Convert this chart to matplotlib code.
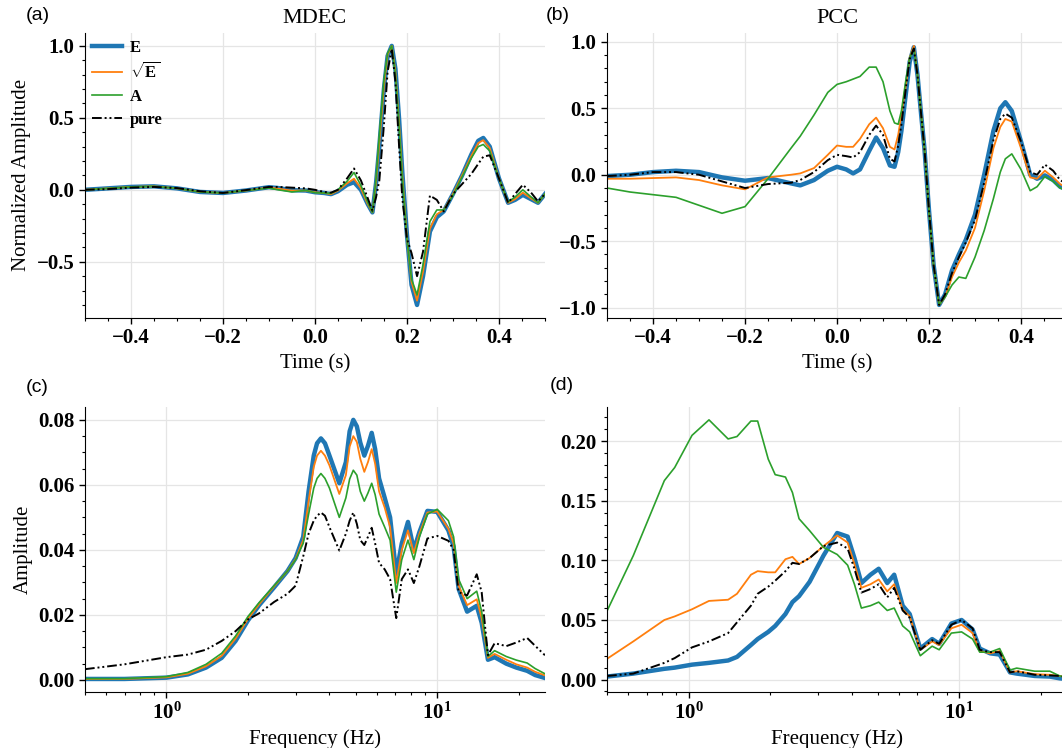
import numpy as np
import matplotlib
matplotlib.use("Agg")
import matplotlib.pyplot as plt
from matplotlib.ticker import AutoMinorLocator

plt.rcParams['font.family'] = ['Liberation Serif', 'DejaVu Serif']
plt.rcParams['mathtext.fontset'] = 'custom'
plt.rcParams['mathtext.rm'] = 'Liberation Serif'
plt.rcParams['mathtext.bf'] = 'Liberation Serif:bold'
plt.rcParams['mathtext.default'] = 'bf'

# ---- time-domain traces (s) ----
t = [-0.50, -0.45, -0.40, -0.35, -0.30, -0.25, -0.20, -0.15, -0.10, -0.08, -0.05, -0.02,
     0.00, 0.02, 0.035, 0.05, 0.07, 0.085, 0.10, 0.115, 0.125, 0.133,
     0.14, 0.15, 0.158, 0.167, 0.175, 0.183, 0.19, 0.20, 0.21, 0.222,
     0.235, 0.25, 0.265, 0.28, 0.30, 0.32, 0.34, 0.355, 0.366, 0.38,
     0.40, 0.42, 0.435, 0.452, 0.47, 0.485, 0.50]

mdec_E = [0.0, 0.01, 0.02, 0.024, 0.01, -0.015, -0.022, -0.005, 0.018, 0.012, -0.003, -0.005,
          -0.017, -0.022, -0.03, -0.01, 0.035, 0.053, 0.0, -0.1, -0.157, 0.05,
          0.30, 0.70, 0.93, 1.0, 0.84, 0.49, 0.12, -0.31, -0.66, -0.80,
          -0.60, -0.29, -0.19, -0.15, -0.03, 0.10, 0.245, 0.34, 0.36, 0.30,
          0.08, -0.09, -0.07, -0.035, -0.065, -0.09, -0.03]
mdec_sqrtE = [0.0, 0.01, 0.02, 0.024, 0.01, -0.015, -0.022, -0.005, 0.016, 0.008, -0.006, -0.005,
              -0.017, -0.022, -0.03, -0.005, 0.045, 0.077, 0.01, -0.1, -0.157, 0.06,
              0.33, 0.72, 0.94, 1.0, 0.82, 0.46, 0.10, -0.33, -0.64, -0.77,
              -0.57, -0.27, -0.17, -0.14, -0.03, 0.10, 0.235, 0.325, 0.345, 0.29,
              0.08, -0.09, -0.065, -0.02, -0.06, -0.09, -0.03]
mdec_A = [0.0, 0.01, 0.02, 0.024, 0.01, -0.015, -0.022, -0.005, 0.012, 0.0, -0.015, -0.004,
          -0.02, -0.022, -0.025, 0.0, 0.06, 0.12, 0.03, -0.09, -0.157, 0.08,
          0.38, 0.76, 0.95, 1.0, 0.80, 0.44, 0.08, -0.34, -0.62, -0.73,
          -0.52, -0.22, -0.14, -0.14, -0.04, 0.09, 0.22, 0.30, 0.315, 0.27,
          0.08, -0.085, -0.05, 0.0, -0.05, -0.09, -0.03]
mdec_pure = [0.0, 0.005, 0.015, 0.02, 0.012, -0.01, -0.022, -0.002, 0.02, 0.02, 0.015, 0.01,
             0.0, -0.015, -0.02, 0.0, 0.08, 0.148, 0.065, -0.06, -0.145, -0.05,
             0.065, 0.45, 0.82, 0.98, 0.75, 0.3, -0.06, -0.34, -0.44, -0.60,
             -0.43, -0.04, -0.07, -0.15, -0.03, 0.04, 0.11, 0.18, 0.23, 0.24,
             0.08, -0.09, -0.03, 0.035, -0.02, -0.08, -0.03]

pcc_E = [-0.01, 0.0, 0.02, 0.03, 0.02, -0.02, -0.045, -0.025, -0.065, -0.08, -0.04, 0.03,
         0.06, 0.04, 0.01, 0.04, 0.18, 0.28, 0.2, 0.07, 0.06, 0.17,
         0.33, 0.62, 0.85, 0.96, 0.75, 0.45, 0.2, -0.27, -0.68, -0.98,
         -0.9, -0.72, -0.6, -0.49, -0.3, 0.0, 0.33, 0.5, 0.546, 0.48,
         0.25, 0.0, -0.03, -0.005, -0.04, -0.09, -0.11]
pcc_sqrtE = [-0.03, -0.03, -0.025, -0.02, -0.04, -0.08, -0.11, -0.02, 0.0, 0.01, 0.05, 0.15,
             0.22, 0.21, 0.21, 0.27, 0.38, 0.43, 0.35, 0.21, 0.19, 0.3,
             0.45, 0.68, 0.88, 0.97, 0.75, 0.45, 0.2, -0.27, -0.68, -0.98,
             -0.92, -0.77, -0.66, -0.57, -0.4, -0.12, 0.2, 0.36, 0.42, 0.4,
             0.2, -0.02, -0.03, 0.03, -0.02, -0.07, -0.1]
pcc_A = [-0.10, -0.13, -0.15, -0.17, -0.23, -0.29, -0.24, -0.03, 0.2, 0.29, 0.45, 0.62,
         0.68, 0.70, 0.72, 0.74, 0.81, 0.81, 0.7, 0.48, 0.39, 0.38,
         0.48, 0.72, 0.88, 0.95, 0.75, 0.45, 0.2, -0.27, -0.68, -0.98,
         -0.92, -0.83, -0.77, -0.78, -0.62, -0.42, -0.18, 0.02, 0.12, 0.157,
         0.04, -0.12, -0.09, -0.013, -0.05, -0.1, -0.12]
pcc_pure = [-0.01, 0.0, 0.02, 0.02, 0.0, -0.05, -0.1, -0.07, -0.06, -0.04, 0.02, 0.11,
            0.15, 0.14, 0.13, 0.17, 0.3, 0.37, 0.3, 0.12, 0.1, 0.22,
            0.38, 0.66, 0.87, 0.95, 0.75, 0.45, 0.2, -0.27, -0.68, -0.98,
            -0.9, -0.74, -0.62, -0.51, -0.34, -0.06, 0.26, 0.42, 0.46, 0.43,
            0.25, 0.02, 0.0, 0.076, 0.03, -0.04, -0.07]

# ---- spectra (Hz) ----
freq_c = [0.5, 0.7, 1.0, 1.2, 1.4, 1.6, 1.8, 2.0, 2.2, 2.5, 2.8, 3.0, 3.2, 3.35, 3.5,
          3.6, 3.72, 3.85, 4.0, 4.35, 4.6, 4.75, 4.9, 5.05, 5.2, 5.38, 5.55, 5.73, 5.9, 6.1,
          6.4, 6.7, 7.06, 7.4, 7.8, 8.2, 8.6, 9.2, 10.0, 11.0, 11.5, 12.0,
          12.9, 14.0, 14.6, 15.4, 16.3, 18.0, 19.6, 21.5, 23.0, 25.0]
spec_mdec_E = [0.0003, 0.0003, 0.0007, 0.0017, 0.0038, 0.0068, 0.012, 0.0183, 0.023, 0.0285,
               0.0335, 0.0375, 0.044, 0.058, 0.069,
               0.0728, 0.0743, 0.0728, 0.069, 0.0605, 0.067, 0.0765, 0.080, 0.078, 0.073,
               0.069, 0.072, 0.076, 0.071, 0.062,
               0.056, 0.050, 0.0326, 0.042, 0.0486, 0.040, 0.0455, 0.052, 0.0517, 0.046, 0.041, 0.028,
               0.021, 0.0228, 0.0176, 0.0062, 0.007, 0.005, 0.0038, 0.0028, 0.0015, 0.0006]
spec_mdec_sqrtE = [0.0003, 0.0003, 0.0008, 0.0019, 0.0042, 0.0074, 0.0127, 0.0188, 0.0233, 0.0288,
                   0.0335, 0.0372, 0.043, 0.055, 0.0655,
                   0.069, 0.0705, 0.069, 0.066, 0.0572, 0.063, 0.0718, 0.075, 0.0732, 0.068,
                   0.064, 0.067, 0.071, 0.0665, 0.058,
                   0.053, 0.047, 0.0298, 0.040, 0.046, 0.039, 0.045, 0.0515, 0.0518, 0.0465, 0.042, 0.029,
                   0.023, 0.0248, 0.019, 0.0068, 0.008, 0.0062, 0.0048, 0.0038, 0.0025, 0.0014]
spec_mdec_A = [0.0004, 0.0004, 0.001, 0.0023, 0.0048, 0.0082, 0.0135, 0.0195, 0.0238, 0.029,
               0.0335, 0.037, 0.042, 0.051, 0.059,
               0.062, 0.0635, 0.062, 0.059, 0.050, 0.056, 0.0618, 0.0645, 0.063, 0.058,
               0.055, 0.0575, 0.0605, 0.057, 0.051,
               0.047, 0.043, 0.027, 0.037, 0.043, 0.037, 0.044, 0.051, 0.0525, 0.049, 0.044, 0.031,
               0.025, 0.0273, 0.021, 0.0072, 0.009, 0.0072, 0.0061, 0.0052, 0.0035, 0.0019]
spec_mdec_pure = [0.0033, 0.0048, 0.007, 0.0078, 0.0093, 0.012, 0.015, 0.0186, 0.0205, 0.024,
                  0.0265, 0.029, 0.038, 0.045, 0.049,
                  0.0505, 0.0515, 0.0505, 0.047, 0.0398, 0.045, 0.049, 0.0515, 0.048, 0.043,
                  0.0415, 0.044, 0.0468, 0.042, 0.036,
                  0.034, 0.031, 0.019, 0.031, 0.034, 0.0298, 0.035, 0.0435, 0.0443, 0.0428, 0.040, 0.027,
                  0.026, 0.0325, 0.027, 0.0076, 0.0113, 0.0104, 0.0115, 0.0129, 0.0105, 0.0076]

freq_d = [0.5, 0.625, 0.814, 0.889, 1.03, 1.19, 1.40, 1.51, 1.70, 1.80,
          1.97, 2.09, 2.28, 2.42, 2.56, 2.80, 3.15, 3.54, 3.87, 4.1,
          4.35, 4.7, 5.04, 5.42, 5.75, 6.18, 6.56, 7.18, 7.94, 8.43,
          9.35, 10.2, 11.2, 11.9, 13.0, 14.1, 15.4, 16.3, 19.0, 21.6,
          23.5, 25.0]
spec_pcc_E = [0.0025, 0.005, 0.009, 0.010, 0.0125, 0.014, 0.016, 0.019, 0.029, 0.034,
              0.040, 0.045, 0.055, 0.065, 0.070, 0.082, 0.104, 0.123, 0.120, 0.102,
              0.081, 0.088, 0.093, 0.081, 0.088, 0.062, 0.055, 0.026, 0.034, 0.030,
              0.047, 0.050, 0.042, 0.026, 0.022, 0.021, 0.006, 0.005, 0.003, 0.0025,
              0.001, 0.0005]
spec_pcc_sqrtE = [0.0174, 0.032, 0.050, 0.053, 0.059, 0.066, 0.067, 0.072, 0.088, 0.091,
                  0.090, 0.090, 0.101, 0.103, 0.097, 0.102, 0.112, 0.121, 0.115, 0.097,
                  0.077, 0.080, 0.084, 0.074, 0.080, 0.059, 0.053, 0.025, 0.032, 0.029,
                  0.043, 0.046, 0.039, 0.024, 0.022, 0.024, 0.006, 0.007, 0.0045, 0.004,
                  0.003, 0.002]
spec_pcc_A = [0.0576, 0.104, 0.167, 0.178, 0.205, 0.218, 0.202, 0.204, 0.217, 0.217,
              0.185, 0.172, 0.170, 0.157, 0.135, 0.125, 0.111, 0.105, 0.096, 0.080,
              0.060, 0.062, 0.065, 0.058, 0.060, 0.045, 0.040, 0.020, 0.028, 0.025,
              0.039, 0.040, 0.034, 0.023, 0.023, 0.026, 0.008, 0.0096, 0.007, 0.007,
              0.003, 0.002]
spec_pcc_pure = [0.003, 0.005, 0.014, 0.018, 0.027, 0.032, 0.039, 0.048, 0.062, 0.072,
                 0.078, 0.083, 0.091, 0.098, 0.097, 0.102, 0.112, 0.115, 0.110, 0.093,
                 0.073, 0.076, 0.080, 0.069, 0.077, 0.058, 0.052, 0.025, 0.033, 0.030,
                 0.046, 0.050, 0.043, 0.025, 0.023, 0.023, 0.006, 0.007, 0.004, 0.0035,
                 0.003, 0.002]

labels = ['E', r'$\sqrt{\mathbf{E}}$', 'A', 'pure']
colors = ['#1f77b4', '#ff7f0e', '#2ca02c', 'k']
widths = [3.2, 1.3, 1.2, 1.4]
styles = ['-', '-', '-', (0, (5, 1.5, 1, 1.5, 1, 1.5))]

fig = plt.figure(figsize=(10.62, 7.48), dpi=100)
w, h = 0.4331, 0.381
ax_a = fig.add_axes([0.080, 0.575, w, h])
ax_b = fig.add_axes([0.5716, 0.575, w, h])
ax_c = fig.add_axes([0.080, 0.075, w, h])
ax_d = fig.add_axes([0.5716, 0.075, w, h])

panels = [
    (ax_a, t, [mdec_E, mdec_sqrtE, mdec_A, mdec_pure]),
    (ax_b, t, [pcc_E, pcc_sqrtE, pcc_A, pcc_pure]),
    (ax_c, freq_c, [spec_mdec_E, spec_mdec_sqrtE, spec_mdec_A, spec_mdec_pure]),
    (ax_d, freq_d, [spec_pcc_E, spec_pcc_sqrtE, spec_pcc_A, spec_pcc_pure]),
]

for ax, x, ys in panels:
    for y, lab, c, lw, ls in zip(ys, labels, colors, widths, styles):
        ax.plot(x, y, color=c, lw=lw, ls=ls, label=lab,
                solid_joinstyle='round', dash_joinstyle='round')
    ax.spines['top'].set_visible(False)
    ax.spines['right'].set_visible(False)
    ax.set_axisbelow(True)
    ax.grid(True, which='major', color='#e5e5e5', lw=0.9)
    ax.tick_params(which='major', direction='out', length=4, width=1, labelsize=15)
    ax.tick_params(which='minor', direction='out', length=2.5, width=0.8)

for ax in (ax_a, ax_b):
    ax.set_xlim(-0.5, 0.5)
    ax.xaxis.set_minor_locator(AutoMinorLocator(4))
    ax.yaxis.set_minor_locator(AutoMinorLocator(5))
    ax.set_xlabel('Time (s)', fontsize=15)
    ax.set_xticks([-0.4, -0.2, 0.0, 0.2, 0.4])

for ax in (ax_c, ax_d):
    ax.set_xscale('log')
    ax.set_xlim(0.5, 25)
    ax.set_xlabel('Frequency (Hz)', fontsize=15)

ax_c.yaxis.set_minor_locator(AutoMinorLocator(4))
ax_d.yaxis.set_minor_locator(AutoMinorLocator(5))

for ax in (ax_a, ax_b, ax_c, ax_d):
    for lbl in ax.get_xticklabels() + ax.get_yticklabels():
        lbl.set_fontweight('bold')

ax_a.set_ylabel('Normalized Amplitude', fontsize=15)
ax_c.set_ylabel('Amplitude', fontsize=15)
ax_a.set_title('MDEC', fontsize=16, pad=7)
ax_b.set_title('PCC', fontsize=16, pad=7)

ax_a.legend(loc='upper left', frameon=False, handlelength=1.8, handletextpad=0.5,
            labelspacing=0.4, borderaxespad=0.0, prop={'weight': 'bold', 'size': 12})

for txt, xx, yy in [('(a)', 0.024, 0.979), ('(b)', 0.514, 0.979),
                    ('(c)', 0.024, 0.482), ('(d)', 0.518, 0.485)]:
    fig.text(xx, yy, txt, fontsize=14, family='Liberation Sans', va='center')

fig.savefig('out.png', dpi=100)
